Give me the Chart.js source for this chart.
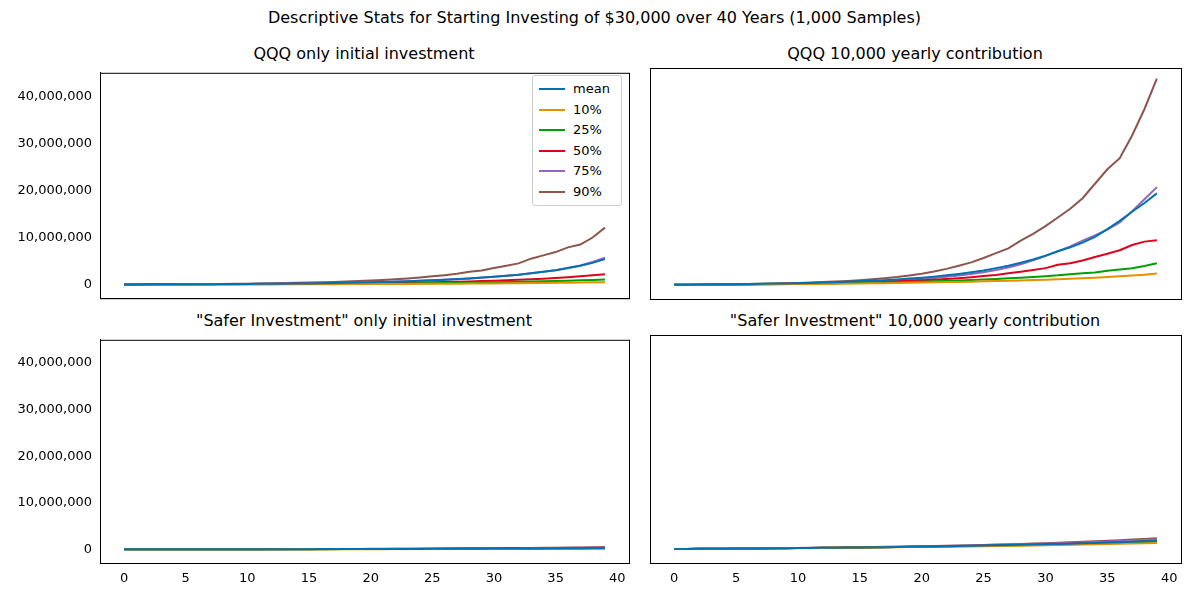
<!DOCTYPE html>
<html><head><meta charset="utf-8">
<script src="https://cdn.jsdelivr.net/npm/chart.js@4/dist/chart.umd.min.js"></script>
<style>
body{margin:0;width:1189px;height:593px;background:#fff;position:relative;font-family:"DejaVu Sans",sans-serif;overflow:hidden}
canvas{position:absolute}
.t{position:absolute;font-size:16px;color:#000;text-align:center;white-space:nowrap}
#legend{position:absolute;left:532px;top:75px;width:88px;border:1px solid #ccc;border-radius:3px;background:#fff;font-size:13px;padding:3px 0}
#legend div{height:20.5px;line-height:20.5px;display:flex;align-items:center}
#legend span.l{display:inline-block;width:26px;height:2px;margin:0 8px 0 6px}
</style></head><body>
<div class="t" style="left:0;width:1189px;top:8px">Descriptive Stats for Starting Investing of $30,000 over 40 Years (1,000 Samples)</div>
<div class="t" style="left:100px;width:528px;top:44px">QQQ only initial investment</div>
<div class="t" style="left:650px;width:530px;top:44px">QQQ 10,000 yearly contribution</div>
<div class="t" style="left:100px;width:528px;top:311px">"Safer Investment" only initial investment</div>
<div class="t" style="left:650px;width:530px;top:311px">"Safer Investment" 10,000 yearly contribution</div>
<canvas id="c0"></canvas><canvas id="c1"></canvas><canvas id="c2"></canvas><canvas id="c3"></canvas>
<div id="legend"></div>
<script>
const years = Array.from({length:40},(_,i)=>i);
const seriesNames = ['mean','10%','25%','50%','75%','90%'];
const seriesColors = ['#0072b2','#e69000','#00a000','#e0001c','#9467bd','#8c564b'];
const yTicks = [0,10000000,20000000,30000000,40000000];
const xTicks = [0,5,10,15,20,25,30,35,40];

// values in millions of dollars
// QQQ only initial investment
const qqqInitMean = [0.03,0.035,0.04,0.047,0.055,0.064,0.074,0.086,0.1,0.115,0.13,0.15,0.17,0.195,0.22,0.25,0.285,0.325,0.37,0.42,0.48,0.55,0.62,0.7,0.8,0.9,1.02,1.16,1.3,1.48,1.67,1.88,2.1,2.4,2.7,3.05,3.5,4.0,4.6,5.4];
const qqqInit10 = [0.03,0.031,0.032,0.034,0.036,0.038,0.04,0.043,0.046,0.049,0.052,0.056,0.06,0.065,0.07,0.076,0.082,0.089,0.096,0.104,0.113,0.122,0.132,0.143,0.155,0.168,0.182,0.197,0.213,0.23,0.25,0.27,0.29,0.315,0.34,0.37,0.4,0.43,0.47,0.51];
const qqqInit25 = [0.03,0.032,0.035,0.038,0.041,0.045,0.05,0.055,0.06,0.066,0.073,0.08,0.088,0.097,0.107,0.118,0.13,0.143,0.157,0.172,0.19,0.21,0.23,0.25,0.275,0.3,0.33,0.36,0.4,0.44,0.48,0.53,0.58,0.64,0.7,0.76,0.83,0.9,0.97,1.05];
const qqqInit50 = [0.03,0.034,0.038,0.043,0.048,0.054,0.061,0.068,0.076,0.085,0.095,0.106,0.118,0.132,0.147,0.164,0.183,0.204,0.227,0.253,0.28,0.31,0.345,0.385,0.43,0.48,0.53,0.59,0.66,0.74,0.82,0.92,1.02,1.13,1.25,1.4,1.56,1.75,1.98,2.2];
const qqqInit75 = [0.03,0.036,0.042,0.049,0.057,0.066,0.077,0.09,0.104,0.12,0.138,0.158,0.18,0.205,0.233,0.265,0.3,0.34,0.385,0.435,0.49,0.555,0.63,0.71,0.8,0.9,1.02,1.15,1.3,1.47,1.66,1.87,2.1,2.38,2.7,3.05,3.5,4.05,4.8,5.7];
const qqqInit90 = [0.03,0.038,0.047,0.057,0.069,0.083,0.1,0.12,0.142,0.167,0.196,0.23,0.27,0.315,0.365,0.42,0.49,0.56,0.64,0.74,0.85,0.97,1.12,1.3,1.5,1.75,2.0,2.3,2.7,3.0,3.5,4.0,4.5,5.5,6.2,6.9,7.9,8.5,10.0,12.1];
// QQQ 10,000 yearly contribution
const qqqContMean = [0.03,0.045,0.062,0.08,0.1,0.125,0.15,0.18,0.21,0.25,0.29,0.33,0.38,0.44,0.5,0.58,0.66,0.76,0.87,1.0,1.15,1.33,1.52,1.74,2.0,2.3,2.65,3.0,3.5,4.0,4.6,5.3,6.1,7.0,7.8,8.8,10.0,11.6,13.3,15.2,17.0,19.0].slice(2);
const qqqCont10 = [0.03,0.043,0.056,0.07,0.085,0.1,0.116,0.133,0.15,0.17,0.19,0.21,0.235,0.26,0.29,0.32,0.35,0.38,0.42,0.46,0.5,0.55,0.6,0.65,0.7,0.76,0.82,0.89,0.96,1.03,1.1,1.2,1.3,1.4,1.5,1.65,1.8,1.95,2.15,2.4];
const qqqCont25 = [0.03,0.044,0.059,0.075,0.092,0.11,0.13,0.152,0.175,0.2,0.225,0.255,0.285,0.32,0.36,0.4,0.45,0.5,0.56,0.62,0.69,0.76,0.84,0.93,1.03,1.14,1.26,1.38,1.52,1.66,1.82,2.0,2.25,2.45,2.6,2.95,3.2,3.5,3.95,4.5];
const qqqCont50 = [0.03,0.045,0.061,0.078,0.097,0.118,0.14,0.165,0.19,0.22,0.25,0.285,0.325,0.37,0.42,0.47,0.53,0.6,0.68,0.77,0.87,0.98,1.1,1.25,1.42,1.62,1.85,2.1,2.45,2.75,3.1,3.5,4.2,4.5,5.1,5.8,6.5,7.2,8.3,9.0,9.3].slice(1);
const qqqCont75 = [0.03,0.046,0.063,0.082,0.103,0.127,0.153,0.183,0.216,0.253,0.295,0.34,0.39,0.45,0.52,0.6,0.69,0.8,0.93,1.08,1.25,1.45,1.7,1.98,2.3,2.65,3.1,3.65,4.3,5.1,6.0,7.0,8.0,9.2,10.3,11.5,13.0,15.3,17.8,20.3];
const qqqCont90 = [0.03,0.048,0.068,0.09,0.115,0.143,0.175,0.21,0.25,0.3,0.36,0.43,0.51,0.61,0.72,0.85,1.0,1.18,1.4,1.66,1.98,2.35,2.8,3.35,4.0,4.7,5.6,6.6,7.6,9.2,10.6,12.2,14.0,15.8,18.0,21.0,24.0,26.3,31.0,36.5,42.8].slice(1);
// Safer Investment only initial investment
const safeInitMean = [0.03,0.032,0.034,0.036,0.038,0.04,0.043,0.046,0.049,0.052,0.055,0.058,0.062,0.066,0.07,0.074,0.079,0.084,0.089,0.095,0.101,0.107,0.114,0.121,0.129,0.137,0.146,0.155,0.165,0.175,0.186,0.198,0.21,0.223,0.237,0.252,0.268,0.285,0.3,0.32];
const safeInit10 = [0.03,0.031,0.032,0.033,0.034,0.035,0.037,0.039,0.041,0.043,0.045,0.047,0.049,0.051,0.054,0.057,0.06,0.063,0.066,0.069,0.072,0.076,0.08,0.084,0.088,0.092,0.097,0.102,0.107,0.112,0.118,0.124,0.13,0.136,0.143,0.15,0.158,0.166,0.174,0.183];
const safeInit25 = [0.03,0.031,0.033,0.035,0.037,0.039,0.041,0.043,0.046,0.049,0.052,0.055,0.058,0.061,0.065,0.069,0.073,0.077,0.081,0.086,0.091,0.096,0.102,0.108,0.114,0.121,0.128,0.135,0.143,0.151,0.16,0.169,0.179,0.189,0.2,0.211,0.223,0.236,0.249,0.263];
const safeInit50 = [0.03,0.032,0.034,0.036,0.038,0.04,0.042,0.045,0.048,0.051,0.054,0.057,0.061,0.065,0.069,0.073,0.077,0.082,0.087,0.092,0.098,0.104,0.11,0.117,0.124,0.131,0.139,0.148,0.157,0.166,0.176,0.187,0.198,0.21,0.223,0.236,0.25,0.265,0.28,0.297];
const safeInit75 = [0.03,0.032,0.035,0.038,0.041,0.044,0.047,0.05,0.054,0.058,0.062,0.066,0.071,0.076,0.081,0.087,0.093,0.099,0.106,0.113,0.121,0.129,0.138,0.147,0.157,0.168,0.179,0.191,0.204,0.218,0.232,0.248,0.264,0.282,0.3,0.32,0.34,0.362,0.385,0.41];
const safeInit90 = [0.03,0.033,0.036,0.039,0.042,0.046,0.05,0.054,0.058,0.063,0.068,0.073,0.079,0.085,0.091,0.098,0.105,0.113,0.121,0.13,0.14,0.15,0.161,0.173,0.185,0.198,0.212,0.227,0.243,0.26,0.278,0.298,0.318,0.34,0.364,0.39,0.416,0.445,0.476,0.51];
// Safer Investment 10,000 yearly contribution
const safeContMean = [0.03,0.05,0.07,0.09,0.11,0.13,0.15,0.17,0.19,0.21,0.23,0.26,0.28,0.31,0.34,0.37,0.4,0.43,0.47,0.5,0.54,0.58,0.62,0.66,0.71,0.76,0.81,0.86,0.92,0.98,1.04,1.1,1.17,1.24,1.31,1.39,1.47,1.56,1.65,1.75];
const safeCont10 = [0.03,0.05,0.07,0.09,0.11,0.13,0.15,0.17,0.19,0.21,0.23,0.25,0.27,0.29,0.31,0.34,0.36,0.39,0.41,0.44,0.47,0.5,0.53,0.56,0.59,0.63,0.66,0.7,0.74,0.78,0.82,0.87,0.92,0.97,1.02,1.07,1.13,1.19,1.25,1.32];
const safeCont25 = [0.03,0.05,0.07,0.09,0.11,0.13,0.15,0.17,0.19,0.21,0.23,0.25,0.28,0.3,0.33,0.35,0.38,0.41,0.44,0.47,0.5,0.54,0.57,0.61,0.65,0.69,0.73,0.78,0.83,0.88,0.93,0.98,1.04,1.1,1.16,1.23,1.3,1.37,1.45,1.52];
const safeCont50 = [0.03,0.05,0.07,0.09,0.11,0.13,0.15,0.17,0.19,0.21,0.23,0.26,0.28,0.31,0.34,0.37,0.4,0.43,0.46,0.49,0.53,0.57,0.61,0.65,0.69,0.74,0.79,0.84,0.89,0.95,1.01,1.07,1.13,1.2,1.27,1.35,1.43,1.51,1.6,1.7];
const safeCont75 = [0.03,0.05,0.07,0.09,0.11,0.13,0.15,0.17,0.2,0.22,0.24,0.27,0.3,0.33,0.36,0.39,0.42,0.46,0.5,0.54,0.58,0.62,0.67,0.72,0.77,0.83,0.89,0.95,1.02,1.09,1.16,1.24,1.32,1.41,1.5,1.6,1.71,1.82,1.94,2.06];
const safeCont90 = [0.03,0.05,0.07,0.09,0.11,0.13,0.16,0.18,0.21,0.23,0.26,0.29,0.32,0.35,0.38,0.42,0.45,0.49,0.53,0.58,0.62,0.67,0.72,0.78,0.84,0.9,0.97,1.04,1.11,1.19,1.27,1.36,1.45,1.55,1.66,1.77,1.89,2.02,2.16,2.3];

const panels = [
 {id:'c0',series:[qqqInitMean,qqqInit10,qqqInit25,qqqInit50,qqqInit75,qqqInit90],left:true,bottom:false},
 {id:'c1',series:[qqqContMean,qqqCont10,qqqCont25,qqqCont50,qqqCont75,qqqCont90],left:false,bottom:false},
 {id:'c2',series:[safeInitMean,safeInit10,safeInit25,safeInit50,safeInit75,safeInit90],left:true,bottom:true},
 {id:'c3',series:[safeContMean,safeCont10,safeCont25,safeCont50,safeCont75,safeCont90],left:false,bottom:true}
];
const frame = {id:'frame',afterDraw(c){const a=c.chartArea,x=c.ctx;x.save();x.strokeStyle='#000';x.lineWidth=1;x.strokeRect(a.left+0.5,a.top+0.5,a.right-a.left,a.bottom-a.top);x.restore();}};
const font = {family:'DejaVu Sans',size:13};
panels.forEach(p=>{
  const cv=document.getElementById(p.id);
  const L=p.left?10:640, W=p.left?620:542;
  const T=p.bottom?329:62, H=p.bottom?262:247;
  cv.style.left=L+'px';cv.style.top=T+'px';cv.width=W;cv.height=H;
  new Chart(cv,{type:'line',
   data:{datasets:p.series.map((s,i)=>({label:seriesNames[i],data:s.map((v,j)=>({x:years[j],y:v*1e6})),borderColor:seriesColors[i],backgroundColor:seriesColors[i],borderWidth:2,pointRadius:0,tension:0}))},
   options:{responsive:false,animation:false,events:[],layout:{padding:{top:6,right:1,left:0,bottom:0}},
    plugins:{legend:{display:false},tooltip:{enabled:false}},
    scales:{
     x:{type:'linear',min:-1.95,max:40.95,afterBuildTicks(s){s.ticks=xTicks.map(v=>({value:v}));},
        afterFit(s){s.height=p.bottom?28:10;},
        grid:{display:false,drawTicks:true,tickLength:5,tickColor:'#000'},border:{display:true,color:'#000'},
        ticks:{display:p.bottom,color:'#000',font,maxRotation:0,autoSkip:false,callback:v=>String(v)}},
     y:{min:-2.9e6,max:45e6,afterBuildTicks(s){s.ticks=yTicks.map(v=>({value:v}));},
        afterFit(s){s.width=p.left?90:10;},
        grid:{display:false,drawTicks:true,tickLength:5,tickColor:'#000'},border:{display:true,color:'#000'},
        ticks:{display:p.left,color:'#000',font,autoSkip:false,callback:v=>v.toLocaleString('en-US')}}
    }},plugins:[frame]});
});
const lg=document.getElementById('legend');
seriesNames.forEach((n,i)=>{const d=document.createElement('div');d.innerHTML='<span class="l" style="background:'+seriesColors[i]+'"></span>'+n;lg.appendChild(d);});
</script></body></html>
